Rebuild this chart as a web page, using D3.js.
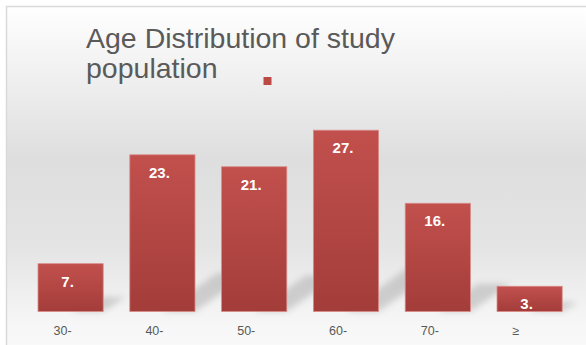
<!DOCTYPE html>
<html>
<head>
<meta charset="utf-8">
<script src="https://cdnjs.cloudflare.com/ajax/libs/d3/7.8.5/d3.min.js"></script>
<style>
  body { margin: 0; background: #fff; }
  svg { display: block; font-family: "Liberation Sans", Arial, sans-serif; }
</style>
</head>
<body>
<div id="chart"></div>
<script>
// Age groups (the labels are cut short in the original picture)
var categories = ["30-", "40-", "50-", "60-", "70-", "\u2265"];
// Percent of study population per group
var values = [7.2, 23.6, 21.8, 27.3, 16.3, 3.8];
var title_lines = ["Age Distribution of study", "population"];

var width = 586;
var height = 345;
var colour = "#bb4a47";

var svg = d3.select("#chart").append("svg")
  .attr("width", width)
  .attr("height", height);

var defs = svg.append("defs");

// panel background: white at top, grey band, lighter at the bottom
var bg = defs.append("linearGradient")
  .attr("id", "bg")
  .attr("x1", 0).attr("y1", 0).attr("x2", 0).attr("y2", 1);
bg.append("stop").attr("offset", "0%").attr("stop-color", "#ffffff");
bg.append("stop").attr("offset", "38%").attr("stop-color", "#dedede");
bg.append("stop").attr("offset", "60%").attr("stop-color", "#e4e4e4");
bg.append("stop").attr("offset", "80%").attr("stop-color", "#f7f7f7");
bg.append("stop").attr("offset", "100%").attr("stop-color", "#fdfdfd");

var barGrad = defs.append("linearGradient")
  .attr("id", "barGrad")
  .attr("x1", 0).attr("y1", 0).attr("x2", 0).attr("y2", 1);
barGrad.append("stop").attr("offset", "0%").attr("stop-color", "#c2504d");
barGrad.append("stop").attr("offset", "100%").attr("stop-color", "#a33d3a");

defs.append("filter")
  .attr("id", "blur")
  .attr("x", "-50%").attr("y", "-50%").attr("width", "200%").attr("height", "200%")
  .append("feGaussianBlur")
  .attr("stdDeviation", 3);

svg.append("rect")
  .attr("x", 6.5)
  .attr("y", 6.5)
  .attr("width", 620)
  .attr("height", 400)
  .attr("fill", "url(#bg)")
  .attr("stroke", "#d9d9d9")
  .attr("stroke-width", 1.5);

// scales
var scaleX = d3.scaleBand()
  .domain(categories)
  .range([24.7, 575.5])
  .paddingInner(0.29)
  .paddingOuter(0.145);

var scaleY = d3.scaleLinear()
  .domain([0, 30])
  .range([311.5, 112.3]);

var data = categories.map(function (c, i) {
  return { cat: c, value: values[i] };
});

// soft shadows cast behind each bar
svg.append("g")
  .attr("class", "shadows")
  .selectAll("path")
  .data(data)
  .enter()
  .append("path")
  .attr("d", function (d) {
    var x0 = scaleX(d.cat) + scaleX.bandwidth() * 0.5;
    var x1 = scaleX(d.cat) + scaleX.bandwidth();
    var y0 = scaleY(0);
    var h = y0 - scaleY(d.value);
    var dx = h * 0.3 + 8;
    var dy = h * 0.22 + 4;
    return "M" + x0 + "," + y0 + "L" + x1 + "," + y0 +
      "L" + (x1 + dx) + "," + (y0 - dy) + "L" + (x0 + dx) + "," + (y0 - dy) + "Z";
  })
  .attr("fill", "#8c8c8c")
  .attr("opacity", 0.35)
  .attr("filter", "url(#blur)");

// bars
svg.append("g")
  .attr("class", "bars")
  .selectAll("rect")
  .data(data)
  .enter()
  .append("rect")
  .attr("x", function (d) { return scaleX(d.cat); })
  .attr("y", function (d) { return scaleY(d.value); })
  .attr("width", scaleX.bandwidth())
  .attr("height", function (d) { return scaleY(0) - scaleY(d.value); })
  .attr("fill", "url(#barGrad)")
  .attr("stroke", "#d88a87")
  .attr("stroke-width", 0.8);

// value labels (shown truncated, as in the original)
svg.append("g")
  .attr("class", "values")
  .selectAll("text")
  .data(data)
  .enter()
  .append("text")
  .attr("x", function (d) { return scaleX(d.cat) + scaleX.bandwidth() / 2 - 3; })
  .attr("y", function (d) { return scaleY(d.value) + 23; })
  .attr("text-anchor", "middle")
  .attr("fill", "#ffffff")
  .attr("font-weight", "bold")
  .attr("font-size", "15px")
  .text(function (d) { return Math.floor(d.value) + "."; });

// category labels
svg.append("g")
  .attr("class", "x-axis")
  .selectAll("text")
  .data(categories)
  .enter()
  .append("text")
  .attr("x", function (d) { return scaleX(d) + scaleX.bandwidth() / 2 - 17; })
  .attr("y", 335)
  .attr("fill", "#595959")
  .attr("font-size", "12.5px")
  .text(function (d) { return d; });

// title
svg.append("text")
  .attr("class", "title")
  .attr("x", 86)
  .attr("y", 48)
  .attr("fill", "#5a5a5a")
  .attr("font-size", "28.5px")
  .selectAll("tspan")
  .data(title_lines)
  .enter()
  .append("tspan")
  .attr("x", 86)
  .attr("dy", function (d, i) { return i ? 30 : 0; })
  .text(function (d) { return d; });

// legend key (no label in the original)
svg.append("rect")
  .attr("class", "legend")
  .attr("x", 263.5)
  .attr("y", 77)
  .attr("width", 8)
  .attr("height", 8)
  .attr("fill", colour);
</script>
</body>
</html>
